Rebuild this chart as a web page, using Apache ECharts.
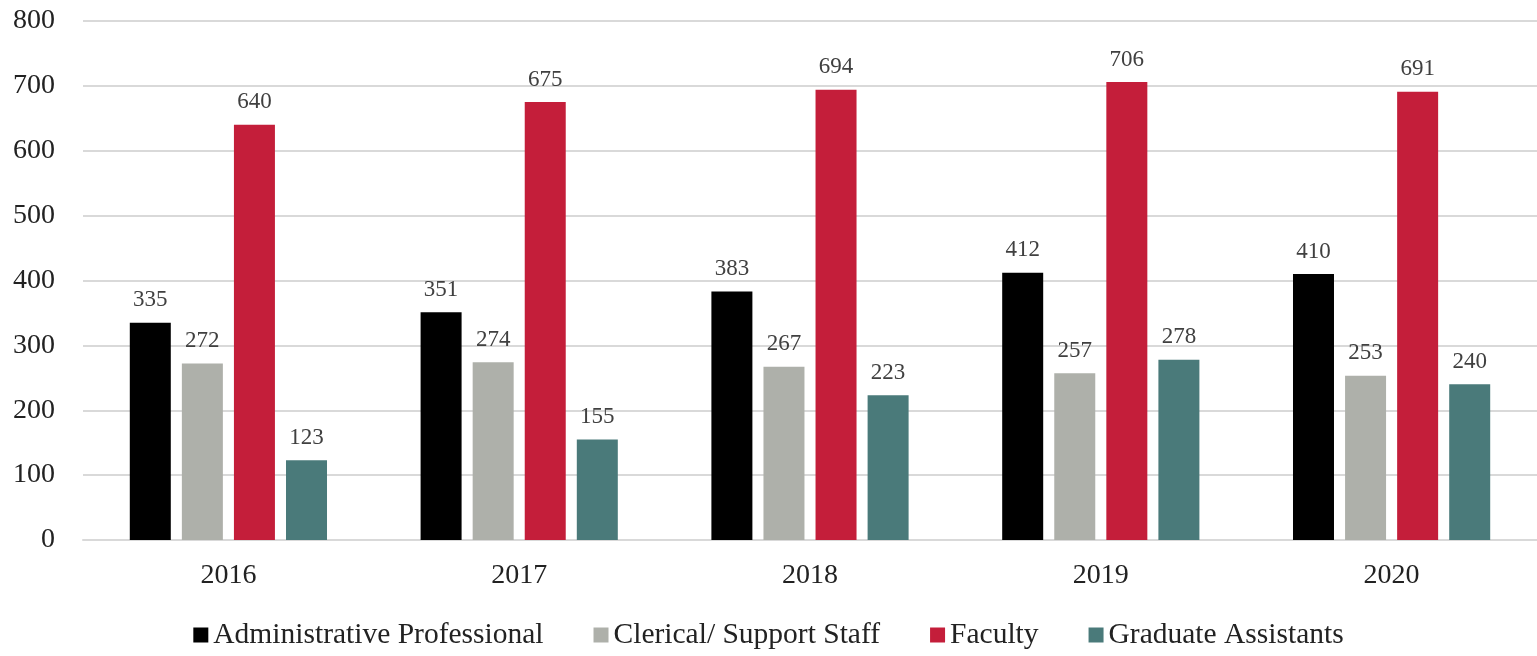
<!DOCTYPE html>
<html>
<head>
<meta charset="utf-8">
<script src="https://cdn.jsdelivr.net/npm/echarts@6/dist/echarts.min.js"></script>
<style>
  html, body { margin: 0; padding: 0; background: #fff; }
  #main { width: 1537px; height: 656px; }
</style>
</head>
<body>
<div id="main"></div>
<script>
var years = ['2016', '2017', '2018', '2019', '2020'];
var adminProfessional = [335, 351, 383, 412, 410];
var clericalSupport = [272, 274, 267, 257, 253];
var faculty = [640, 675, 694, 706, 691];
var gradAssistants = [123, 155, 223, 278, 240];

var fontFam = '"Liberation Serif", "DejaVu Serif", serif';

function makeSeries(name, data, color) {
  return {
    name: name,
    type: 'bar',
    data: data,
    barWidth: 41,
    barGap: '27%',
    itemStyle: { color: color },
    label: {
      show: true,
      position: 'top',
      distance: 11,
      color: '#404040',
      fontFamily: fontFam,
      fontSize: 23
    }
  };
}

var chart = echarts.init(document.getElementById('main'));
var option = {
  animation: false,
  textStyle: { fontFamily: fontFam },
  grid: { left: 83, right: 0, top: 21, bottom: 116, containLabel: false },
  legend: {
    bottom: 1,
    left: 'center',
    itemWidth: 15,
    itemHeight: 15,
    itemGap: 50,
    icon: 'rect',
    textStyle: { fontFamily: fontFam, fontSize: 29.5, color: '#222' },
    data: ['Administrative Professional', 'Clerical/ Support Staff', 'Faculty', 'Graduate Assistants']
  },
  xAxis: {
    type: 'category',
    data: years,
    axisTick: { show: false },
    axisLine: { lineStyle: { color: '#d9d9d9', width: 2 } },
    axisLabel: { color: '#222', fontFamily: fontFam, fontSize: 28, margin: 22 }
  },
  yAxis: {
    type: 'value',
    min: 0,
    max: 800,
    interval: 100,
    axisLine: { show: false },
    axisTick: { show: false },
    splitLine: { lineStyle: { color: '#d9d9d9', width: 2 } },
    axisLabel: { color: '#222', fontFamily: fontFam, fontSize: 28, margin: 28 }
  },
  series: [
    makeSeries('Administrative Professional', adminProfessional, '#000000'),
    makeSeries('Clerical/ Support Staff', clericalSupport, '#aeb0aa'),
    makeSeries('Faculty', faculty, '#c41e3a'),
    makeSeries('Graduate Assistants', gradAssistants, '#4a7a7a')
  ]
};
chart.setOption(option);
window.addEventListener('resize', chart.resize);
</script>
</body>
</html>
